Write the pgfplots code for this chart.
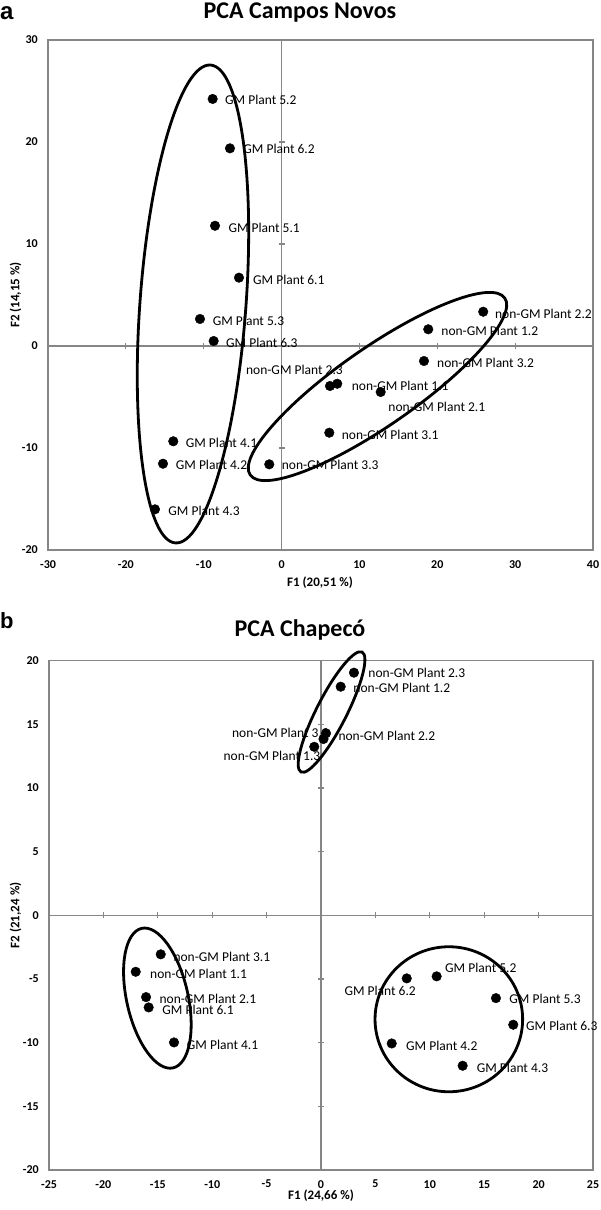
\documentclass[border=0pt]{standalone}
\usepackage{pgfplots}
\pgfplotsset{compat=1.18}
\usepackage{fontspec}
\setmainfont{Carlito}
\newfontfamily\panelfont{Liberation Sans}
\definecolor{axgray}{RGB}{134,134,134}
\pgfplotsset{pcastyle/.style={
  scale only axis, clip=false,
  axis line style={axgray, line width=1.2pt},
  major tick length=0pt, tick style={draw=none},
  /pgf/number format/assume math mode=true,
  xticklabel style={anchor=north, inner sep=0pt, yshift=-10pt, font=\bfseries\fontsize{12}{12}\selectfont},
  yticklabel style={anchor=east, inner sep=0pt, xshift=-10pt, font=\bfseries\fontsize{12}{12}\selectfont},
}}
\tikzset{lab/.style={font=\fontsize{13.5}{13.5}\selectfont, inner sep=0pt},
  labr/.style={lab, anchor=west}, labl/.style={lab, anchor=east},
  ell/.style={line width=2.8pt}}
\begin{document}
\begin{tikzpicture}
\useasboundingbox (0pt,0pt) rectangle (600pt,-1210pt);
% ---------------- panel a ----------------
\node[anchor=base west, inner sep=0pt] at (0pt,-19pt) {\panelfont\bfseries\fontsize{24}{24}\selectfont a};
\node[anchor=base, inner sep=0pt] at (300pt,-18.3pt) {\bfseries\fontsize{24}{24}\selectfont PCA Campos Novos};
\node[anchor=base, inner sep=0pt] at (320pt,-586pt) {\bfseries\fontsize{13}{13}\selectfont F1 (20,51 \%)};
\node[anchor=base, inner sep=0pt, rotate=90] at (19.5pt,-295pt) {\bfseries\fontsize{13}{13}\selectfont F2 (14,15 \%)};
\begin{axis}[pcastyle, at={(48pt,-550pt)}, anchor=south west,
  width=545pt, height=510pt,
  xmin=-30, xmax=40, ymin=-20, ymax=30,
  xtick={-30,-20,-10,0,10,20,30,40}, ytick={-20,-10,0,10,20,30},
  xticklabels={-30,-20,-10,0,10,20,30,40}, yticklabels={-20,-10,0,10,20,30}]
\draw[axgray, line width=1.1pt] (axis cs:-30,0) -- (axis cs:40,0);
\draw[axgray, line width=1.1pt] (axis cs:0,-20) -- (axis cs:0,30);
\pgfplotsinvokeforeach{-20,-10,10,20,30}{\draw[axgray, line width=1.1pt] (axis cs:#1,0) ++(0pt,-3pt) -- ++(0pt,6pt);}
\pgfplotsinvokeforeach{-10,10,20}{\draw[axgray, line width=1.1pt] (axis cs:0,#1) ++(-3pt,0pt) -- ++(6pt,0pt);}
% labels
\node[labr, xshift=12.3pt, yshift=-1pt] at (axis cs:-8.85,24.22) {GM Plant 5.2};
\node[labr, xshift=13.3pt, yshift=-1pt] at (axis cs:-6.63,19.38) {GM Plant 6.2};
\node[labr, xshift=13.3pt, yshift=-2pt] at (axis cs:-8.55,11.79) {GM Plant 5.1};
\node[labr, xshift=14pt, yshift=-2.5pt] at (axis cs:-5.47,6.70) {GM Plant 6.1};
\node[labr, xshift=12.7pt, yshift=-2pt] at (axis cs:-10.48,2.65) {GM Plant 5.3};
\node[labr, xshift=12.3pt, yshift=-1.5pt] at (axis cs:-8.72,0.49) {GM Plant 6.3};
\node[labr, xshift=12.4pt, yshift=-2pt] at (axis cs:-13.91,-9.34) {GM Plant 4.1};
\node[labr, xshift=12.7pt, yshift=-1.3pt] at (axis cs:-15.23,-11.54) {GM Plant 4.2};
\node[labr, xshift=13.3pt, yshift=-1.5pt] at (axis cs:-16.26,-16.01) {GM Plant 4.3};
\node[labr, xshift=12.4pt, yshift=-1pt] at (axis cs:-1.58,-11.6) {non-GM Plant 3.3};
\node[labr, xshift=11.7pt, yshift=-2.5pt] at (axis cs:25.9,3.36) {non-GM Plant 2.2};
\node[labr, xshift=13pt, yshift=-1.5pt] at (axis cs:18.84,1.64) {non-GM Plant 1.2};
\node[labr, xshift=13pt, yshift=-2.3pt] at (axis cs:18.29,-1.47) {non-GM Plant 3.2};
\node[labl, xshift=13pt, yshift=16pt] at (axis cs:6.22,-3.92) {non-GM Plant 2.3};
\node[labr, xshift=14.4pt, yshift=-2.3pt] at (axis cs:7.15,-3.70) {non-GM Plant 1.1};
\node[labr, xshift=7.6pt, yshift=-14.7pt] at (axis cs:12.73,-4.51) {non-GM Plant 2.1};
\node[labr, xshift=12.4pt, yshift=-2.3pt] at (axis cs:6.13,-8.50) {non-GM Plant 3.1};
% ellipses
\draw[ell] (axis cs:-11.38,4.12) ellipse [x radius=239.6pt, y radius=53pt, rotate=85.8];
\draw[ell] (axis cs:12.32,-3.97) ellipse [x radius=155pt, y radius=39pt, rotate=34.8];
% points
\addplot[only marks, mark=*, mark size=4.8pt, black] coordinates {
(-8.85,24.22) (-6.63,19.38) (-8.55,11.79) (-5.47,6.70) (-10.48,2.65) (-8.72,0.49)
(-13.91,-9.34) (-15.23,-11.54) (-16.26,-16.01)
(-1.58,-11.6) (25.9,3.36) (18.84,1.64) (18.29,-1.47) (6.22,-3.92) (7.15,-3.70)
(12.73,-4.51) (6.13,-8.50)};
\end{axis}
% ---------------- panel b ----------------
\node[anchor=base west, inner sep=0pt] at (0pt,-628pt) {\panelfont\bfseries\fontsize{22}{22}\selectfont b};
\node[anchor=base, inner sep=0pt] at (300pt,-636.7pt) {\bfseries\fontsize{24}{24}\selectfont PCA Chapecó};
\node[anchor=base, inner sep=0pt] at (321pt,-1199pt) {\bfseries\fontsize{13}{13}\selectfont F1 (24,66 \%)};
\node[anchor=base, inner sep=0pt, rotate=90] at (19.5pt,-915.3pt) {\bfseries\fontsize{13}{13}\selectfont F2 (21,24 \%)};
\begin{axis}[pcastyle, at={(49pt,-1170pt)}, anchor=south west,
  width=544pt, height=509.3pt,
  xmin=-25, xmax=25, ymin=-20, ymax=20,
  xtick={-25,-20,-15,-10,-5,0,5,10,15,20,25}, ytick={-20,-15,-10,-5,0,5,10,15,20},
  xticklabels={-25,-20,-15,-10,-5,0,5,10,15,20,25}, yticklabels={-20,-15,-10,-5,0,5,10,15,20}]
\draw[axgray, line width=1.1pt] (axis cs:-25,0) -- (axis cs:25,0);
\draw[axgray, line width=1.1pt] (axis cs:0,-20) -- (axis cs:0,20);
\pgfplotsinvokeforeach{-20,-15,-10,-5,5,10,15,20}{\draw[axgray, line width=1.1pt] (axis cs:#1,0) ++(0pt,-3pt) -- ++(0pt,6pt);}
\pgfplotsinvokeforeach{-15,-10,-5,5,10,15}{\draw[axgray, line width=1.1pt] (axis cs:0,#1) ++(-3pt,0pt) -- ++(6pt,0pt);}
% labels
\node[labr, xshift=14.3pt, yshift=-0.6pt] at (axis cs:3.03,19.06) {non-GM Plant 2.3};
\node[labr, xshift=12.6pt, yshift=-1pt] at (axis cs:1.81,17.96) {non-GM Plant 1.2};
\node[labr, xshift=12.3pt, yshift=-2.7pt] at (axis cs:0.46,14.30) {non-GM Plant 2.2};
\node[labl, xshift=5.5pt, yshift=5.7pt] at (axis cs:0.23,13.85) {non-GM Plant 3.2};
\node[labl, xshift=6.3pt, yshift=-9.3pt] at (axis cs:-0.62,13.24) {non-GM Plant 1.3};
\node[labr, xshift=12.6pt, yshift=-2.4pt] at (axis cs:-14.73,-3.06) {non-GM Plant 3.1};
\node[labr, xshift=14.3pt, yshift=-1.6pt] at (axis cs:-17.03,-4.43) {non-GM Plant 1.1};
\node[labr, xshift=13.3pt, yshift=-1.3pt] at (axis cs:-16.08,-6.42) {non-GM Plant 2.1};
\node[labr, xshift=13.6pt, yshift=-2pt] at (axis cs:-15.84,-7.23) {GM Plant 6.1};
\node[labr, xshift=12.7pt, yshift=-2.7pt] at (axis cs:-13.51,-9.98) {GM Plant 4.1};
\node[labr, xshift=8.3pt, yshift=8.6pt] at (axis cs:10.63,-4.79) {GM Plant 5.2};
\node[labl, xshift=9.3pt, yshift=-12.4pt] at (axis cs:7.88,-4.95) {GM Plant 6.2};
\node[labr, xshift=13.3pt, yshift=-1pt] at (axis cs:16.08,-6.50) {GM Plant 5.3};
\node[labr, xshift=12.7pt, yshift=-1.3pt] at (axis cs:17.67,-8.59) {GM Plant 6.3};
\node[labr, xshift=14.3pt, yshift=-2.4pt] at (axis cs:6.50,-10.06) {GM Plant 4.2};
\node[labr, xshift=14pt, yshift=-2.6pt] at (axis cs:13.02,-11.81) {GM Plant 4.3};
% ellipses
\draw[ell] (axis cs:0.97,15.97) ellipse [x radius=67.3pt, y radius=15pt, rotate=63];
\draw[ell] (axis cs:-15.04,-6.50) ellipse [x radius=71.5pt, y radius=30.7pt, rotate=102.65];
\draw[ell] (axis cs:11.75,-8.16) ellipse [x radius=73.8pt, y radius=72.5pt];
% points
\addplot[only marks, mark=*, mark size=4.8pt, black] coordinates {
(3.03,19.06) (1.81,17.96) (0.46,14.30) (0.23,13.85) (-0.62,13.24)
(-14.73,-3.06) (-17.03,-4.43) (-16.08,-6.42) (-15.84,-7.23) (-13.51,-9.98)
(10.63,-4.79) (7.88,-4.95) (16.08,-6.50) (17.67,-8.59) (6.50,-10.06) (13.02,-11.81)};
\end{axis}
\end{tikzpicture}
\end{document}
